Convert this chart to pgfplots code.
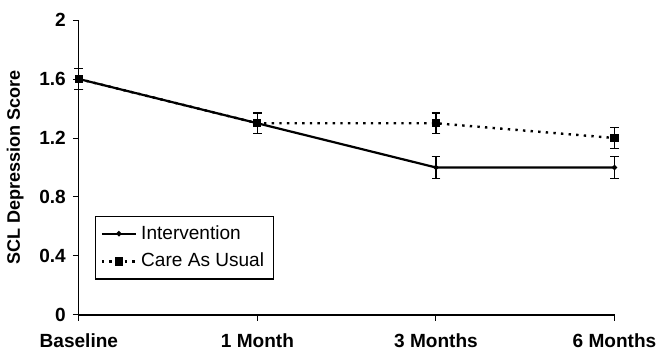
\documentclass[border=0pt]{standalone}
\usepackage{pgfplots}
\pgfplotsset{compat=1.18}
\usepackage{fontspec}
\setmainfont{Liberation Sans}
\begin{document}
\begin{tikzpicture}
\begin{axis}[
  scale only axis,
  width=267pt, height=147pt,
  xmin=0, xmax=3, ymin=0, ymax=2,
  axis lines=left, axis line style={-, line width=0.6pt},
  xtick={0,1,2,3},
  xticklabels={Baseline,1 Month,3 Months,6 Months},
  ytick={0,0.4,0.8,1.2,1.6,2},
  yticklabels={0,0.4,0.8,1.2,1.6,2},
  tick align=outside, tick pos=left,
  major tick length=3pt,
  tick style={line width=0.5pt, black},
  ticklabel style={font=\fontsize{9.5}{11}\selectfont\bfseries},
  xticklabel style={yshift=-3pt},
  ylabel={SCL Depression Score},
  ylabel style={font=\fontsize{9}{11}\selectfont\bfseries, yshift=1pt},
  legend style={at={(0.03,0.12)}, anchor=south west, draw=black, line width=0.6pt,
    font=\fontsize{9.5}{11}\selectfont, row sep=1.5pt, inner sep=2.5pt},
  legend cell align=left,
  clip=false,
]
\addplot[black, line width=1.1pt, mark=*, mark size=0.7pt,
  error bars/.cd, y dir=both, y explicit,
  error bar style={line width=0.6pt, solid},
  error mark options={rotate=90, mark size=2.2pt, line width=0.6pt}]
  coordinates {(0,1.6) +- (0,0.07) (1,1.3) +- (0,0.07) (2,1.0) +- (0,0.075) (3,1.0) +- (0,0.075)};
\addlegendentry{Intervention}
\addplot[black, line width=1.2pt, dash pattern=on 1.2pt off 2.6pt, mark=square*, mark size=1.4pt,
  mark options={solid},
  error bars/.cd, y dir=both, y explicit,
  error bar style={line width=0.6pt, solid},
  error mark options={rotate=90, mark size=2.2pt, line width=0.6pt}]
  coordinates {(0,1.6) +- (0,0.07) (1,1.3) +- (0,0.07) (2,1.3) +- (0,0.07) (3,1.2) +- (0,0.07)};
\addlegendentry{Care As Usual}
\end{axis}
\path (current axis.north west) ++(0,10pt);
\end{tikzpicture}
\end{document}
